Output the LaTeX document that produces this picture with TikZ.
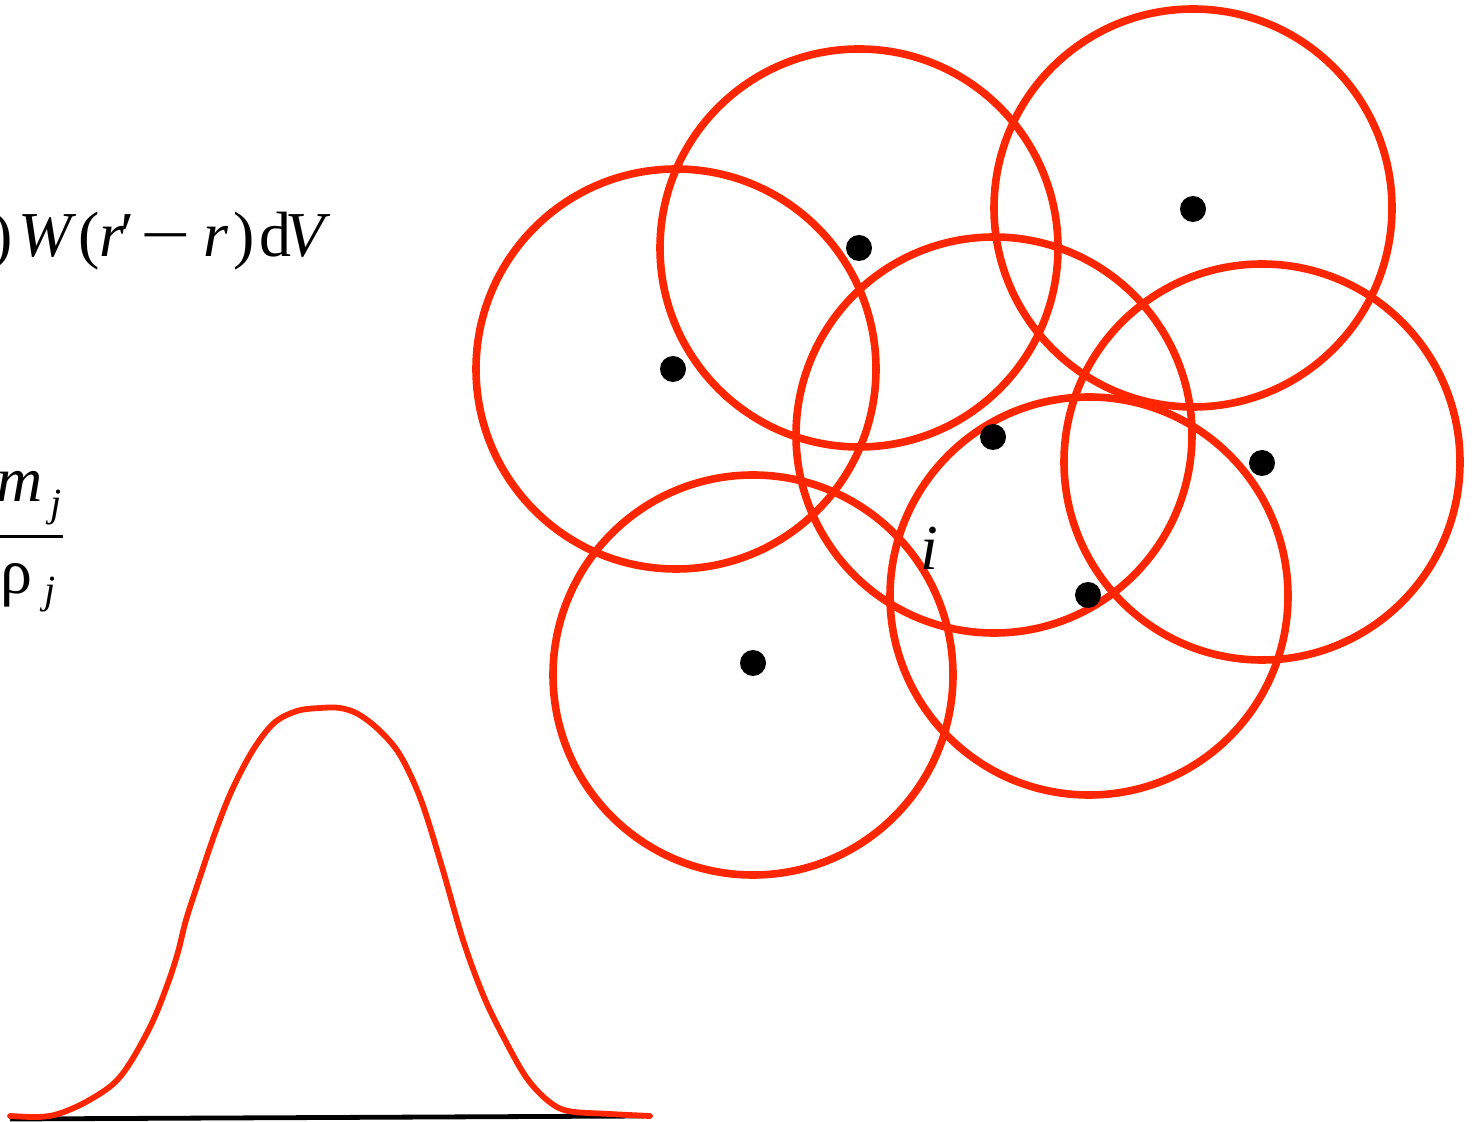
\documentclass[tikz,border=0pt]{standalone}
\usepackage{graphicx}
\usepackage{fontspec}
\setmainfont{Liberation Serif}
\definecolor{sphred}{RGB}{255,38,0}
\begin{document}
\begin{tikzpicture}[x=0.5pt,y=-0.5pt,
  kernel/.style={draw=sphred, line width=3.8pt},
  bell/.style={draw=sphred, line width=2.9pt, line cap=round},
  axisline/.style={draw=black, line width=2.4pt},
  particle/.style={circle, fill=black, draw=none, inner sep=0pt, minimum size=13pt},
  glyph/.style={inner sep=0pt, anchor=base west, font=\fontsize{32}{38}\selectfont},
  subglyph/.style={inner sep=0pt, anchor=base west, font=\fontsize{20}{24}\selectfont\itshape},
]
\useasboundingbox (0,0) rectangle (1479,1122);

% ---- kernel circles (smoothing lengths) ----
\draw[kernel] (676,369) circle[radius=100pt];
\draw[kernel] (859,248) circle[radius=99.5pt];
\draw[kernel] (1193,208) circle[radius=99.5pt];
\draw[kernel] (994,435) circle[radius=99pt];
\draw[kernel] (1262,462) circle[radius=99pt];
\draw[kernel] (1089,596) circle[radius=99.5pt];
\draw[kernel] (753,675) circle[radius=100pt];

% ---- particles ----
\node[particle] (p1) at (673,369) {};
\node[particle] (p2) at (859,248) {};
\node[particle] (p3) at (1193,209) {};
\node[particle] (p4) at (993,437) {};
\node[particle] (p5) at (1262,463) {};
\node[particle] (p6) at (1088,595) {};
\node[particle] (p7) at (753,663) {};

\node[glyph, font=\fontsize{32}{38}\selectfont\itshape] (ilabel) at (920,570) {i};

% ---- integral formula (clipped at the left) ----
\node[glyph] (f1) at (-9,257) {)};
\node[glyph, font=\fontsize{32}{38}\selectfont\itshape] (f2) at (18,257) {W};
\node[glyph] (f3) at (78,257) {(};
\node[glyph, font=\fontsize{32}{38}\selectfont\itshape] (f4) at (99,257) {r};
\node[glyph] (f5) at (120,257) {′};
\node[glyph] (f6) at (140,257) {\scalebox{1.4}[1]{−}};
\node[glyph, font=\fontsize{32}{38}\selectfont\itshape] (f7) at (203,257) {r};
\node[glyph] (f8) at (233,257) {)};
\node[glyph] (f9) at (259,257) {d};
\node[glyph, font=\fontsize{32}{38}\selectfont\itshape] (f10) at (285,257) {V};

% ---- fraction m_j / rho_j ----
\node[glyph, font=\fontsize{32}{38}\selectfont\itshape] (m) at (-4,502) {m};
\node[subglyph] (mj) at (50,517) {j};
\coordinate (barL) at (0,537);
\coordinate (barR) at (63,537);
\draw[line width=1.5pt] (barL) -- (barR);
\node[glyph] (rho) at (0,594) {ρ};
\node[subglyph] (rhoj) at (44,604) {j};

% ---- kernel profile ----
\coordinate (axL) at (10,1119);
\coordinate (axR) at (645,1116);
\draw[axisline] (axL) -- (axR);
\draw[bell] plot[smooth, tension=0.55] coordinates {
 (10,1116) (38,1117) (58,1114) (84,1103) (112,1085) (130,1063) (152,1023)
 (168,983) (178,952) (186,920) (198,883) (215,833) (232,790) (253,750)
 (274,723) (297,711) (320,708) (340,708) (358,714) (379,730) (400,755)
 (421,800) (442,867) (463,940) (484,997) (505,1040) (526,1077) (547,1100)
 (568,1111) (610,1114) (650,1116)};
\end{tikzpicture}
\end{document}
